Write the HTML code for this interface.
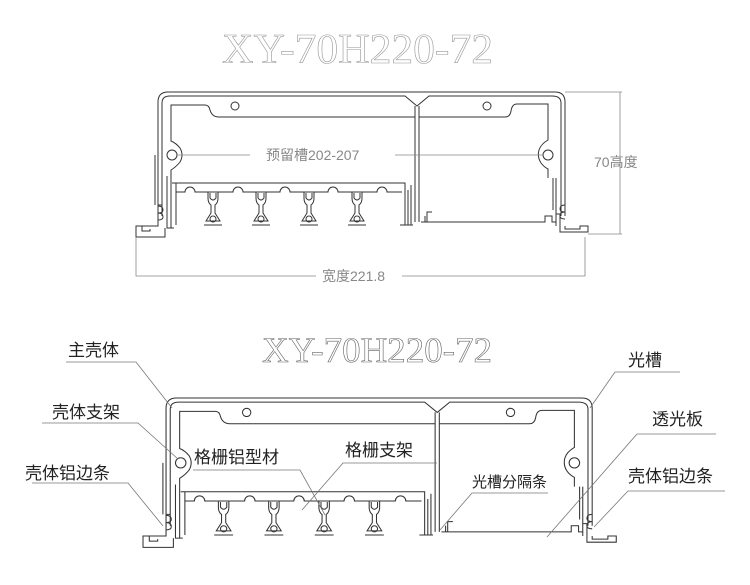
<!DOCTYPE html>
<html><head><meta charset="utf-8"><style>
html,body{margin:0;padding:0;background:#fff;}
svg{display:block}
</style></head><body>
<svg width="750" height="585" viewBox="0 0 750 585" xmlns="http://www.w3.org/2000/svg">
<defs>
<g id="prof" fill="none" stroke="#333" stroke-width="1">
  <path d="M158,216 V102 Q158,92 168,92 H555 Q565,92 565,102 V216"/>
  <path d="M162,216 V103 Q162,96 170,96 H405 L417,106 L429,96 H552 Q561,96 561,103 V216"/>
  <path d="M415,106 V222 M419,106 V222"/>
  <path d="M171,178 V170 Q176,167 180,162 Q184,155 180,148 Q176,143 171,141 V105 H205 Q209,105 210,110 Q212,117 219,117 H415"/>
  <path d="M419,117 H505 Q510,117 511,111 Q512,104 517,104 H548 V140 Q541,144 539,150 Q537,157 541,163 Q544,167 548,169 V178"/>
  <circle cx="235" cy="106" r="4"/>
  <circle cx="487" cy="106" r="4"/>
  <circle cx="172" cy="155" r="5"/>
  <circle cx="548" cy="155" r="5"/>
  <path d="M155,155 V205 M158,205 H162 M171,178 V228 M167,176 V228 H174"/>
  <path d="M158,206 Q163,206 163,210 Q163,213 158,213 Q163,213 163,217 Q163,220 158,220"/>
  <path d="M158,214 V226 H136 V237 H165 V228 M142,226 V231 H150 V229"/>
  <path d="M172,183 H405 V225 H400 M176,183 V225"/>
  <path d="M176,192 H185 a5,5 0 0 1 10,0 H233 a5,5 0 0 1 10,0 H280 a5,5 0 0 1 10,0 H328 a5,5 0 0 1 10,0 H377 a5,5 0 0 1 10,0 H402"/>
  <path d="M408,225 V190 M411,225 V185 M405,225 H413"/>
  <path d="M421,222 H427 V212 H432 M425,222 V216 M425,222 H545 V216 H552 V222 H556"/>
  <path d="M556,226 V178 M553,178 V210 M556,214 H560 V232 H588 V226 H580 V229 H565 V226"/>
  <path d="M565,205 Q560,205 560,209 Q560,212 565,212 Q560,212 560,216 Q560,219 565,219"/>
</g>
<g id="hanger" fill="none" stroke="#333" stroke-width="1">
  <path d="M-5,192 V198 Q-5,203 -2,205 V213 L-7,221 H7 L2,213 V205 Q5,203 5,198 V192"/>
  <path d="M-3,193 V198 Q0,202 3,198 V193"/>
  <circle cx="0" cy="219" r="3"/>
  <path d="M-9,225 H9"/>
</g>
<g id="hangers">
  <use href="#hanger" x="213"/><use href="#hanger" x="261"/><use href="#hanger" x="309"/><use href="#hanger" x="357"/>
</g>
</defs>

<text x="222" y="63" font-family="Liberation Serif, serif" font-size="42" textLength="271" lengthAdjust="spacingAndGlyphs" fill="#fff" stroke="#999" stroke-width="0.6">XY-70H220-72</text>
<use href="#prof"/>
<use href="#hangers"/>
<g stroke="#888" stroke-width="0.8" fill="none">
  <path d="M177,155 H250 M395,155 H543"/>
  <path d="M136,237 V276 H585 V237 M565,92 H622 M588,234 H622 M620,92 V234"/>
</g>
<g font-family="Liberation Sans, 'Noto Sans CJK SC', sans-serif" font-size="14" fill="#888">
  <text x="266" y="160">预留槽202-207</text>
  <text x="594" y="167">70高度</text>
  <rect x="316" y="268" width="86" height="14" fill="#fff"/>
  <text x="322" y="281">宽度221.8</text>
</g>

<text x="262" y="362" font-family="Liberation Serif, serif" font-size="36" textLength="230" lengthAdjust="spacingAndGlyphs" fill="#fff" stroke="#666" stroke-width="0.6">XY-70H220-72</text>
<g transform="translate(165,398) scale(1.047,1.03) translate(-157,-92)">
  <use href="#prof"/>
  <use href="#hangers"/>
</g>
<g stroke="#777" stroke-width="0.8" fill="none">
  <path d="M66,362 H136 L172,408"/>
  <path d="M42,423 H138 L178,459"/>
  <path d="M32,483 H128 L163,526"/>
  <path d="M193,470 H300 L325,515"/>
  <path d="M437,463 H343 L302,510"/>
  <path d="M680,372 H615 L590,408"/>
  <path d="M548,493 H472 L440,530"/>
  <path d="M716,434 H637 L547,537"/>
  <path d="M725,491 H628 L594,527"/>
</g>
<g font-family="Liberation Sans, 'Noto Sans CJK SC', sans-serif" font-size="17" fill="#222">
  <text x="68" y="356">主壳体</text>
  <text x="52" y="418">壳体支架</text>
  <text x="25" y="479">壳体铝边条</text>
  <text x="194" y="463">格栅铝型材</text>
  <text x="345" y="456">格栅支架</text>
  <text x="628" y="366">光槽</text>
  <text x="652" y="425">透光板</text>
  <text x="628" y="482">壳体铝边条</text>
  <text x="472" y="487" font-size="15">光槽分隔条</text>
</g>
</svg>
</body></html>
